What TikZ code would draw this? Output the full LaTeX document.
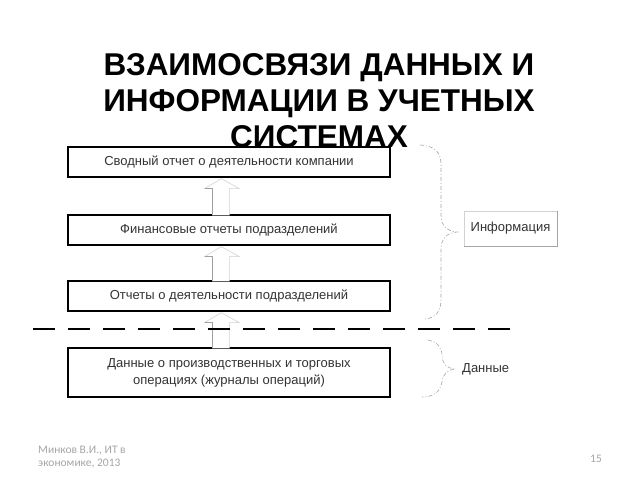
\documentclass[tikz,border=0pt]{standalone}
\usepackage{fontspec}
\setmainfont{Liberation Sans}
\newfontfamily\footfont{Carlito}
\usetikzlibrary{calc}
\begin{document}
\begin{tikzpicture}[x=1pt,y=-1pt,
  stepbox/.style={draw=black,line width=1.3pt,minimum width=322pt,align=center,inner sep=0pt,
    text=black!80,font=\fontsize{13}{16}\selectfont},
  arrowline/.style={draw=gray!35,line width=0.6pt,fill=white},
  stemline/.style={draw=gray!75,line width=0.9pt},
  bracepath/.style={draw=gray!70,line width=0.6pt,dash pattern=on 4pt off 2pt on 1pt off 2pt},
  sep/.style={draw=black,line width=1.6pt,dash pattern=on 22pt off 13pt},
  titleline/.style={anchor=base,inner sep=0pt,font=\fontsize{31.5}{34}\bfseries\selectfont,text=black}]
\useasboundingbox (0,0) rectangle (640,480);
\fill[white] (0,0) rectangle (640,480);

% boxes
\node[stepbox,minimum height=30pt] (b1) at (229,162) {Сводный отчет о деятельности компании};
\node[stepbox,minimum height=30pt] (b2) at (229,230) {Финансовые отчеты подразделений};
\node[stepbox,minimum height=30pt] (b3) at (229,296) {Отчеты о деятельности подразделений};
\node[stepbox,minimum height=49pt] (b4) at (229,372.5) {Данные о производственных и торговых\\[1pt]операциях (журналы операций)};

% block arrows: lower box -> upper box
\newcommand\blockarr[2]{%
  \path[arrowline] ($(#1.north west)+(145,1)$) -- ($(#2.south west)+(145,11)$)
    -- ($(#2.south west)+(137,11)$) -- ($(#2.south west)+(154,1)$)
    -- ($(#2.south west)+(172,11)$) -- ($(#2.south west)+(162,11)$)
    -- ($(#1.north west)+(162,1)$);
  \draw[stemline] ($(#1.north west)+(145,0)$) -- ($(#2.south west)+(145,11)$) -- ($(#2.south west)+(138,11)$);
}
\blockarr{b2}{b1}
\blockarr{b3}{b2}
\blockarr{b4}{b3}

% separator
\coordinate (sl) at (33,329);
\coordinate (sr) at (515,329);
\draw[sep] (sl) -- (sr);

% braces
\draw[bracepath] (420,145) .. controls (435,146) and (441,152) .. (441,165) -- (441,215)
  .. controls (441,226) and (447,231) .. (457,232)
  .. controls (447,233) and (441,238) .. (441,250) -- (441,300)
  .. controls (441,312) and (435,318) .. (425,319);
\draw[bracepath] (428,340) .. controls (438,342) and (442,348) .. (442,356)
  .. controls (443,365) and (447,368) .. (455,369)
  .. controls (447,370) and (443,374) .. (442,382)
  .. controls (440,393) and (432,397) .. (422,397);

% labels
\node[draw=gray!35,line width=0.8pt,minimum width=93pt,minimum height=35pt,inner sep=0pt,
  text=black!80,font=\fontsize{13}{15}\selectfont] (info) at (510.5,228.5) {Информация};
\draw[gray!70,line width=0.9pt] (info.north east) -- (info.south east) -- (info.south west);
\node[anchor=west,inner sep=0pt,text=black!80,font=\fontsize{13}{15}\selectfont] (data) at (462,369) {Данные};

% title
\node[titleline] (t1) at (319,75) {ВЗАИМОСВЯЗИ ДАННЫХ И};
\node[titleline] (t2) at (319,111) {ИНФОРМАЦИИ В УЧЕТНЫХ};
\node[titleline] (t3) at (319,147) {СИСТЕМАХ};

% footer
\node[anchor=west,align=left,inner sep=0pt,text=gray!70,font=\footfont\fontsize{11.5}{13}\selectfont] (foot) at (38,457.5)
  {Минков В.И., ИТ в\\экономике, 2013};
\node[inner sep=0pt,text=gray!70,font=\footfont\fontsize{11.5}{13}\selectfont] (page) at (596,459) {15};
\end{tikzpicture}
\end{document}
